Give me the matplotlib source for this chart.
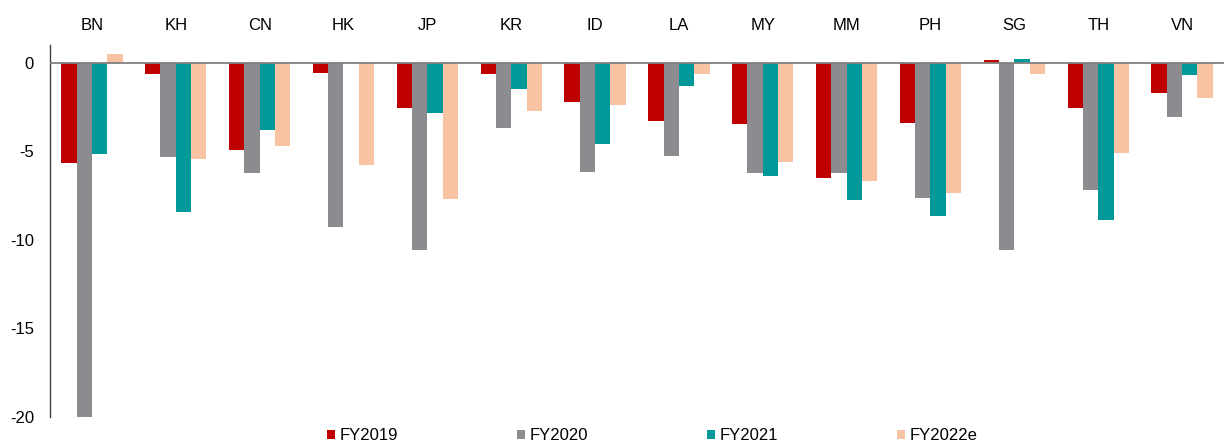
import matplotlib
matplotlib.use("Agg")
import matplotlib.pyplot as plt
import numpy as np

plt.rcParams['font.family'] = ['Liberation Sans', 'DejaVu Sans']

categories = ["BN", "KH", "CN", "HK", "JP", "KR", "ID", "LA", "MY", "MM", "PH", "SG", "TH", "VN"]
fy2019 = [-5.65, -0.66, -4.94, -0.60, -2.54, -0.62, -2.22, -3.27, -3.44, -6.50, -3.40, 0.13, -2.55, -1.71]
fy2020 = [-20.0, -5.35, -6.20, -9.26, -10.59, -3.66, -6.18, -5.24, -6.22, -6.25, -7.66, -10.57, -7.17, -3.08]
fy2021 = [-5.18, -8.43, -3.81, 0.0, -2.85, -1.48, -4.58, -1.30, -6.42, -7.77, -8.64, 0.19, -8.90, -0.69]
fy2022e = [0.50, -5.41, -4.71, -5.77, -7.68, -2.70, -2.38, -0.66, -5.60, -6.70, -7.34, -0.66, -5.11, -1.97]
series_names = ["FY2019", "FY2020", "FY2021", "FY2022e"]
colors = ["#C00000", "#8C8C90", "#009999", "#F8C3A2"]
yticks = [0, -5, -10, -15, -20]

fig = plt.figure(figsize=(12.24, 4.46), dpi=100)
ax = fig.add_axes([50/1224, 29/446, 1 - 50/1224, (417-45)/446])

x = np.arange(len(categories))
w = 0.183
handles = []
for i, (vals, c, name) in enumerate(zip([fy2019, fy2020, fy2021, fy2022e], colors, series_names)):
    b = ax.bar(x + (i - 1.5) * w, vals, width=w, color=c, label=name, zorder=2)
    handles.append(b)

ax.set_xlim(-0.5, len(categories) - 0.5)
ax.set_ylim(-20, 1.0)
ax.axhline(0, color="#808080", lw=1.3, zorder=3)

ax.set_yticks(yticks)
ax.set_yticklabels([str(v) for v in yticks], fontsize=12)
ax.tick_params(axis='y', length=0, pad=11.5)

ax.xaxis.tick_top()
ax.set_xticks(x)
ax.set_xticklabels(categories, fontsize=12)
ax.tick_params(axis='x', length=0, pad=9)

for s in ["top", "right", "bottom"]:
    ax.spines[s].set_visible(False)
ax.spines["left"].set_color("#404040")
ax.spines["left"].set_linewidth(1.0)

fig.legend(handles=handles, labels=series_names, loc="center left",
           bbox_to_anchor=(327/1224, 1 - 436/446), ncol=4, frameon=False,
           fontsize=12, handlelength=0.48, handleheight=0.48, handletextpad=0.3,
           columnspacing=7.1, borderpad=0, borderaxespad=0)

fig.savefig("out.png", dpi=100)
